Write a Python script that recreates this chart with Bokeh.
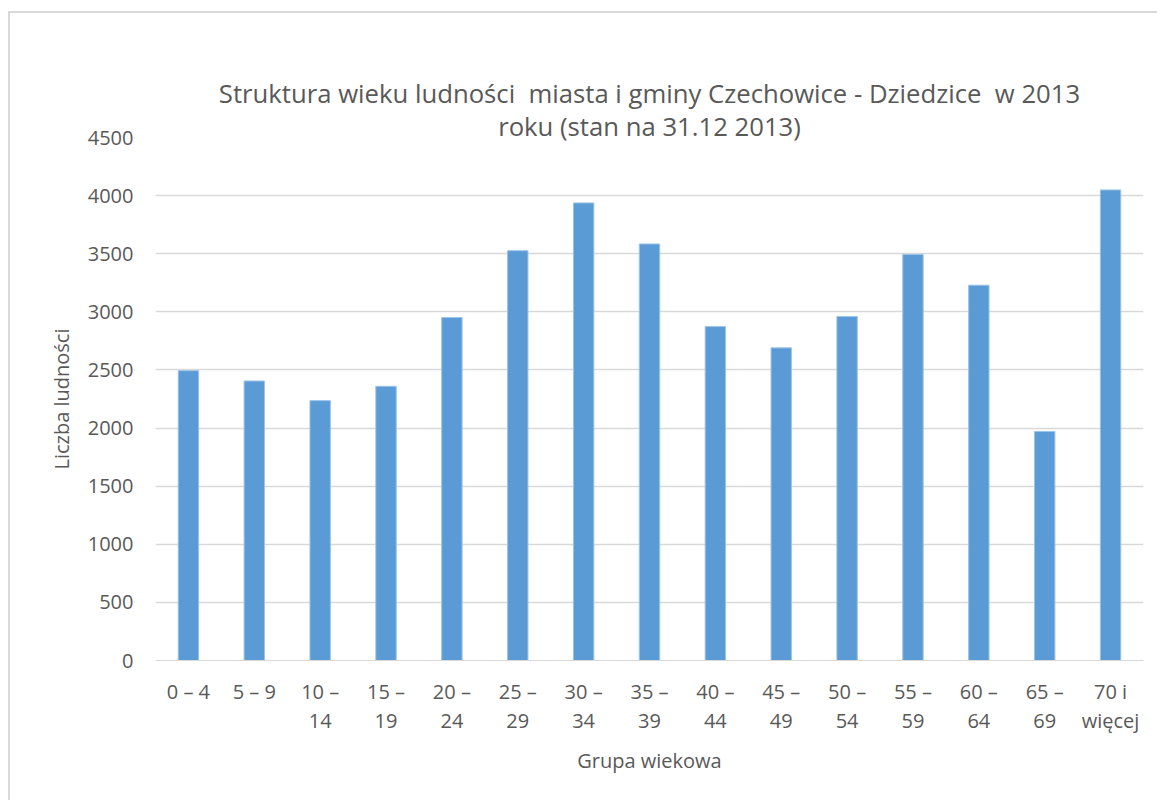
from bokeh.plotting import figure
from bokeh.models import Range1d, SingleIntervalTicker, FixedTicker, LinearAxis, Title, InlineStyleSheet
from bokeh.embed import file_html
from bokeh.resources import INLINE

groups = ["0 – 4", "5 – 9", "10 – 14", "15 – 19", "20 – 24", "25 – 29", "30 – 34",
          "35 – 39", "40 – 44", "45 – 49", "50 – 54", "55 – 59", "60 – 64", "65 – 69",
          "70 i więcej"]
label_line1 = ["0 – 4", "5 – 9", "10 –", "15 –", "20 –", "25 –", "30 –",
               "35 –", "40 –", "45 –", "50 –", "55 –", "60 –", "65 –", "70 i"]
label_line2 = [" ", " ", "14", "19", "24", "29", "34", "39", "44", "49", "54", "59", "64", "69",
               "więcej"]
population = [2494, 2405, 2236, 2359, 2951, 3526, 3937, 3584, 2873, 2690, 2960, 3494, 3229, 1971, 4049]

# double spaces kept visible with a no-break space
title_line1 = "Struktura wieku ludności\u00a0 miasta i gminy Czechowice - Dziedzice\u00a0 w 2013"
title_line2 = "roku (stan na 31.12 2013)"
x_title = "Grupa wiekowa"
y_title = "Liczba ludności"

FONT = "Open Sans"
GREY = "#595959"

pos = list(range(len(groups)))

p = figure(width=1153, height=790, x_range=Range1d(-0.5, len(groups) - 0.5),
           y_range=Range1d(0, 4500), output_backend="svg", toolbar_location=None,
           x_axis_type=None,
           min_border_left=155, min_border_right=10, min_border_top=137, min_border_bottom=130)
p.stylesheets = [InlineStyleSheet(css=":host { position: relative; } "
                                      ":host::after { content: ''; position: absolute; left: 8px; top: 11px; "
                                      "right: -4px; bottom: -10px; border-top: 2px solid #d9d9d9; "
                                      "border-left: 2px solid #d9d9d9; pointer-events: none; }")]

p.vbar(x=pos, top=population, width=0.31, fill_color="#5B9BD5", line_color="#9DC3E6", line_width=1)

p.title.visible = False
for txt, sb in ((title_line2, -12), (title_line1, 3)):
    t = Title(text=txt, align="center", text_font=FONT, text_font_size="25.7px",
              text_font_style="normal", text_color=GREY, standoff=sb)
    p.add_layout(t, "above")

p.outline_line_color = None
p.background_fill_color = "white"
p.border_fill_color = "white"

p.xgrid.grid_line_color = None
p.ygrid.grid_line_color = "#d9d9d9"
p.ygrid.grid_line_width = 1.3

p.yaxis.ticker = SingleIntervalTicker(interval=500)
p.yaxis.axis_line_color = None
p.yaxis.major_tick_line_color = None
p.yaxis.minor_tick_line_color = None
p.yaxis.major_label_standoff = 16
p.yaxis.major_label_text_font = FONT
p.yaxis.major_label_text_font_size = "20px"
p.yaxis.major_label_text_color = GREY
p.yaxis.axis_label = y_title
p.yaxis.axis_label_text_font = FONT
p.yaxis.axis_label_text_font_size = "20px"
p.yaxis.axis_label_text_font_style = "normal"
p.yaxis.axis_label_text_color = GREY
p.yaxis.axis_label_standoff = 10


def make_xaxis(labels, standoff, line_color):
    return LinearAxis(ticker=FixedTicker(ticks=pos), axis_line_color=line_color,
                      major_tick_line_color=None, minor_tick_line_color=None,
                      major_label_overrides=dict(zip(pos, labels)),
                      major_label_standoff=standoff, major_label_text_font=FONT,
                      major_label_text_font_size="20px", major_label_text_color=GREY)


xa1 = make_xaxis(label_line1, 11, "#d9d9d9")
xa2 = make_xaxis(label_line2, -7, None)
xa2.axis_label = x_title
xa2.axis_label_text_font = FONT
xa2.axis_label_text_font_size = "20px"
xa2.axis_label_text_font_style = "normal"
xa2.axis_label_text_color = GREY
xa2.axis_label_standoff = 10
p.add_layout(xa1, "below")
p.add_layout(xa2, "below")

open("out.html", "w").write(file_html(p, INLINE))
